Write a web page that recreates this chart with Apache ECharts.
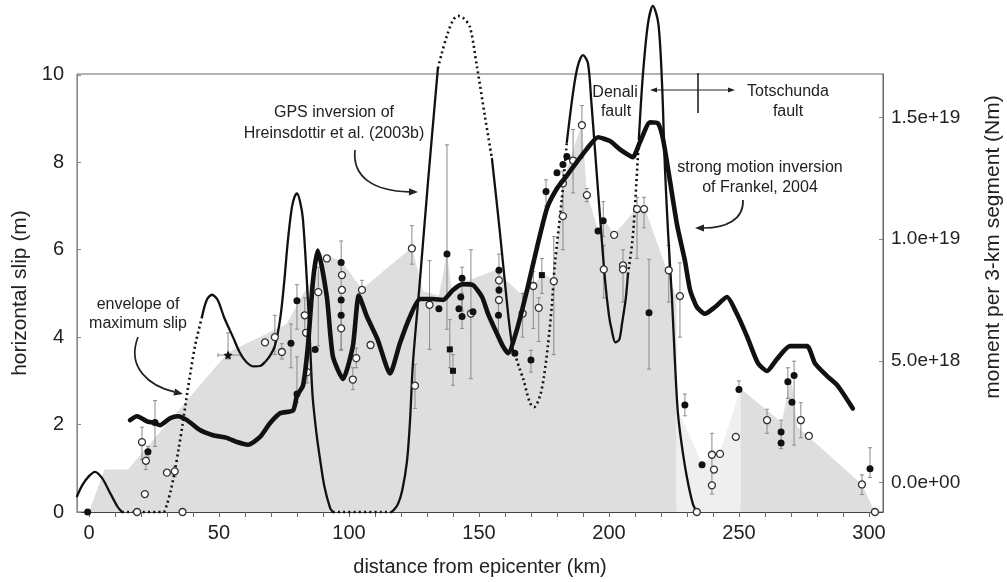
<!DOCTYPE html>
<html>
<head>
<meta charset="utf-8">
<script src="https://cdn.jsdelivr.net/npm/echarts@6/dist/echarts.min.js"></script>
<style>
  html, body { margin: 0; padding: 0; background: #fff; }
  #chart { width: 1007px; height: 582px; }
</style>
</head>
<body>
<div id="chart"></div>
<script>
// ---- axis ticks ----
const distanceTicks = [0, 10, 20, 30, 40, 50, 60, 70, 80, 90, 100, 110, 120, 130, 140, 150,
  160, 170, 180, 190, 200, 210, 220, 230, 240, 250, 260, 270, 280, 290, 300];
const distanceLabels = [0, 50, 100, 150, 200, 250, 300];
const slipLabels = [0, 2, 4, 6, 8, 10];
const momentLabels = [0, 5, 10, 15];           // in units of 1e18 Nm

// ---- envelope of maximum slip: [km, m] ----
const envelopeMain = [[0, 0], [6, 0.97], [15, 0.97], [53.5, 3.65], [76, 4.3], [82, 4.95], [92, 5.85],
  [97, 5.75], [105, 5.1], [124.2, 6.05], [128.5, 5.05], [134.6, 4.95], [137.7, 5.92], [139.6, 5.05],
  [146, 5.3], [157, 5.55], [160.5, 5.3], [166, 5.0], [171, 5.2], [175, 5.45], [178.8, 5.3],
  [182.3, 7.55], [189.6, 8.9], [191.5, 7.3], [195.8, 6.45], [198, 6.7], [202, 6.35], [210.8, 6.95],
  [213.8, 6.95], [226, 4.9], [226, 0]];
const envelopeJunction = [[226, 0], [226, 2.4], [235.8, 1.1], [242.7, 1.35], [250.6, 2.82], [250.6, 0]];
const envelopeTotschunda = [[250.6, 0], [250.6, 2.82], [266.5, 2.05], [270, 3.1], [272.5, 1.95],
  [297.3, 0.63], [302.3, 0]];

// ---- GPS inversion (slip, m): solid and dotted stretches ----
const gpsSolid = [
  [[-4.6, 0.36], [-2.5, 0.62], [0, 0.82], [2.3, 0.92], [5, 0.78], [8, 0.45], [11, 0.12], [12.7, 0]],
  [[43.5, 4.47], [45.3, 4.85], [47.3, 4.97], [49.5, 4.85], [52, 4.45], [55.4, 4.0], [58, 3.65],
   [60.7, 3.42], [63.5, 3.33], [65.8, 3.34], [68, 3.45], [69.6, 3.57], [71.5, 3.8], [73.5, 4.4],
   [75, 5.2], [76.5, 6.2], [78, 6.95], [79, 7.2], [80, 7.29], [81.2, 7.1], [82.3, 6.7], [83.8, 5.3],
   [85, 3.9], [86, 2.66], [87.5, 1.8], [88.8, 1.24], [90.5, 0.6], [92.7, 0.1], [93.8, 0]],
  [[116.5, 0], [118.8, 0.18], [120.5, 0.5], [122.3, 1.15], [123.5, 2.1], [124.6, 3.4], [127.3, 5.3],
   [130.4, 7.55], [134.2, 10.15]],
  [[155, 8.08], [158, 6.43], [161.2, 4.54], [163, 3.72], [163.8, 3.62]],
  [[183.8, 8.46], [186.2, 9.6], [188, 10.2], [190, 10.45], [191.9, 10.27], [193.2, 9.4], [194.6, 8.3],
   [196.5, 6.8], [198.5, 5.3], [200, 4.5], [201, 4.18], [202.5, 3.88], [204, 3.95], [205, 4.3],
   [206.5, 4.9], [207.3, 5.44]],
  [[211.5, 8.53], [213, 9.96], [215, 11.17], [216.9, 11.58], [219, 11.17], [220.4, 9.82], [221.5, 7.92],
   [222.7, 6.43], [224.2, 4.92], [225.4, 3.41], [226.5, 2.28], [228, 1.53], [230, 0.79], [232.3, 0.18],
   [233.8, 0]]
];
const gpsDotted = [
  [[12.7, 0], [28.5, 0], [30, 0.18], [31.5, 0.5], [33, 0.93], [34.5, 1.45], [36, 2.0], [38, 2.8],
   [40.8, 3.8], [43.5, 4.47]],
  [[93.8, 0], [116.5, 0]],
  [[134.2, 10.15], [135.5, 10.45], [137.7, 10.9], [140, 11.25], [142, 11.35], [144, 11.3], [146.5, 11.1],
   [149.2, 10.2], [152.3, 9.05], [155, 8.08]],
  [[163.8, 3.62], [165.5, 3.3], [167, 3.05], [169.6, 2.5], [171.2, 2.4], [173.5, 2.66], [175, 3.1],
   [176.5, 3.8], [178, 4.7], [179.2, 5.67], [181.9, 7.18], [183.8, 8.46]],
  [[207.3, 5.44], [209, 6.2], [210, 7.0], [211.5, 8.53]]
];

// ---- strong motion inversion (moment per 3-km segment, 1e18 Nm) ----
const strongMotion = [[15.8, 2.56], [18.5, 2.72], [22.3, 2.51], [25, 2.45], [27.3, 2.35], [31.2, 2.64],
  [34.2, 2.72], [37.7, 2.56], [42.7, 2.15], [47.7, 1.94], [53, 1.83], [56.9, 1.66], [61.2, 1.55],
  [65.8, 1.87], [69.6, 2.43], [73.5, 2.84], [78.5, 2.96], [80, 3.57], [82.3, 3.97], [84.2, 5.6],
  [86.2, 8.32], [88, 9.53], [91.5, 7.62], [93.8, 5.19], [97.7, 4.25], [101.5, 5.6], [103.8, 7.68],
  [106.9, 6.82], [111, 5.88], [115.8, 4.48], [119.6, 5.72], [123.5, 6.82], [127.3, 7.54], [132.3, 7.54],
  [136.2, 7.5], [140, 7.91], [143.8, 8.15], [147.7, 8.11], [151.2, 7.62], [153.5, 6.93], [156.9, 6.12],
  [159.2, 5.6], [161.2, 5.31], [164.6, 6.28], [168.5, 7.91], [172.3, 9.65], [176.2, 11.28], [180, 12.08],
  [183.8, 12.61], [187.7, 13.18], [191.5, 13.71], [195.8, 14.19], [200.4, 14.03], [204.2, 13.69],
  [207.5, 13.46], [209.2, 13.37], [211.9, 13.98], [215.8, 14.8], [218.8, 14.76], [220.8, 14.11],
  [223.5, 12.37], [226.2, 10.58], [229.2, 9.12], [231.2, 7.91], [233.8, 7.21], [236.9, 6.93],
  [240.8, 7.21], [245.4, 7.62], [249.2, 6.93], [253.1, 6.0], [257.3, 4.9], [260.8, 4.58], [264.6, 5.07],
  [269.6, 5.6], [276.2, 5.6], [279.2, 4.9], [283.8, 4.38], [288, 3.97], [293.8, 3.04]];

// ---- surface offsets: [km, slip m, error low, error high] ----
const offsetsFilled = [[-0.5, 0, null, null], [22.7, 1.38, 1.25, 1.5], [25.4, 2.05, 1.5, 2.55],
  [77.7, 3.86, 3.3, 4.3], [80, 4.83, 4.18, 5.2], [80, 2.7, 2.5, 3.55], [87, 3.72, null, null],
  [97, 5.71, 5.0, 6.2], [97, 4.85, null, null], [97, 4.5, 3.72, 5.0], [134.6, 4.65, null, null],
  [137.7, 5.9, 4.18, 8.4], [143.5, 5.35, 4.6, 5.6], [143, 4.92, null, null], [142.3, 4.65, null, null],
  [143.5, 4.47, 4.2, 5.0], [147.7, 4.58, null, null], [157.7, 5.53, 5.0, 5.9], [157.7, 5.08, null, null],
  [157.5, 4.5, 4.0, 4.8], [163.8, 3.63, null, null], [170, 3.48, 3.2, 3.7], [175.8, 7.33, 7.0, 7.6],
  [180, 7.76, null, null], [182.3, 7.95, null, null], [183.8, 8.13, null, null], [195.8, 6.43, null, null],
  [197.8, 6.66, 6.3, 7.1], [215.4, 4.56, 3.27, 5.78], [229.2, 2.45, 2.2, 2.7], [235.8, 1.08, null, null],
  [250, 2.8, 2.8, 3.0], [266.2, 1.83, 1.83, 2.1], [266.2, 1.58, 1.45, 1.83], [268.8, 2.98, 2.6, 3.3],
  [271.2, 3.12, 1.53, 3.45], [270.4, 2.51, null, null], [300.4, 0.99, 0.79, 1.47]];
const offsetsSquare = [[138.8, 3.72, 3.3, 4.4], [140, 3.23, 2.9, 3.6], [174.2, 5.42, 5.0, 5.8]];
const offsetsOpen = [[18.5, 0, null, null], [36, 0, null, null], [20.4, 1.6, 1.2, 1.94],
  [21.9, 1.17, 0.97, 1.4], [21.5, 0.41, null, null], [30, 0.9, null, null], [33, 0.93, 0.8, 1.05],
  [67.7, 3.88, null, null], [71.5, 4.0, 3.6, 4.5], [74.2, 3.66, 3.5, 3.85], [83, 4.5, 4.1, 4.9],
  [83.5, 4.1, null, null], [83.9, 3.2, 2.95, 3.65], [88.2, 5.03, 3.8, 5.6], [91.5, 5.8, null, null],
  [97.3, 5.42, null, null], [97.3, 5.08, null, null], [97, 4.2, 3.7, 4.5], [105, 5.08, 5.08, 5.3],
  [102.8, 3.52, 3.3, 3.75], [101.5, 3.03, 2.8, 3.3], [108.3, 3.82, null, null], [124.2, 6.03, 5.67, 6.55],
  [125.4, 2.89, 2.37, 3.38], [131, 4.74, 3.72, 5.75], [146.9, 4.54, 3.05, 6.0], [157.7, 5.3, null, null],
  [157.7, 4.85, null, null], [166.8, 4.54, 4.0, 5.0], [170.9, 5.17, 4.2, 5.5], [173, 4.67, 3.9, 4.9],
  [178.8, 5.28, 3.6, 6.3], [182.3, 7.52, null, null], [182.3, 6.77, 6.0, 7.8], [186.2, 8.04, 7.3, 8.75],
  [189.6, 8.85, 8.1, 9.3], [191.5, 7.25, 7.1, 7.4], [198, 5.55, 4.9, 6.1], [202, 6.34, null, null],
  [205.4, 5.64, 4.8, 6.0], [205.4, 5.55, null, null], [210.8, 6.93, 5.8, 7.2], [213.5, 6.93, 6.5, 7.2],
  [223, 5.53, 4.8, 6.1], [227.3, 4.94, 4.0, 5.7], [233.8, 0, null, null], [239.6, 1.31, 0.41, 1.8],
  [240.4, 0.97, null, null], [239.6, 0.61, null, null], [242.7, 1.33, null, null], [248.8, 1.72, null, null],
  [260.8, 2.1, 1.8, 2.35], [273.8, 2.1, 1.7, 2.5], [276.9, 1.74, null, null], [297.3, 0.63, 0.4, 0.85],
  [302.3, 0, null, null]];
// [km, slip, low, high, km low, km high]
const offsetsStar = [[53.5, 3.59, 3.5, 4.1, 49.6, 58.5]];

// ---------------------------------------------------------------
const FONT = '"Liberation Sans", Arial, Helvetica, sans-serif';
const INK = '#111';

function momentLabel(v) {
  const s = (v * 1e18).toExponential(1);
  return s.replace(/e([+-])(\d+)$/, function (m, sign, d) {
    return 'e' + sign + (d.length < 2 ? '0' + d : d);
  });
}

function envelopeSeries(data, color) {
  return {
    type: 'line', data: data, xAxisIndex: 0, yAxisIndex: 0, z: 1,
    showSymbol: false, silent: true, smooth: false,
    lineStyle: { width: 0 },
    areaStyle: { color: color, opacity: 1 }
  };
}

function lineSeries(data, yIndex, width, dash, z, smooth) {
  return {
    type: 'line', data: data, xAxisIndex: 0, yAxisIndex: yIndex, z: z,
    showSymbol: false, silent: true, smooth: smooth, clip: false,
    lineStyle: { color: INK, width: width, type: dash, cap: dash === 'solid' ? 'round' : 'butt', join: 'round' }
  };
}

function errorBars(points) {
  return {
    type: 'custom', xAxisIndex: 0, yAxisIndex: 0, z: 2, silent: true, clip: false,
    data: points.filter(p => p[2] != null).map(p => [p[0], p[2], p[3]]),
    encode: { x: 0, y: [1, 2] },
    renderItem: function (params, api) {
      const x = api.value(0);
      const a = api.coord([x, api.value(1)]);
      const b = api.coord([x, api.value(2)]);
      const st = { stroke: '#8a8a8a', lineWidth: 1 };
      const cap = 2;
      return {
        type: 'group', children: [
          { type: 'line', shape: { x1: a[0], y1: a[1], x2: b[0], y2: b[1] }, style: st },
          { type: 'line', shape: { x1: a[0] - cap, y1: a[1], x2: a[0] + cap, y2: a[1] }, style: st },
          { type: 'line', shape: { x1: b[0] - cap, y1: b[1], x2: b[0] + cap, y2: b[1] }, style: st }
        ]
      };
    }
  };
}

function horizontalBars(points) {
  return {
    type: 'custom', xAxisIndex: 0, yAxisIndex: 0, z: 2, silent: true,
    data: points.map(p => [p[4], p[5], p[1]]),
    encode: { x: [0, 1], y: 2 },
    renderItem: function (params, api) {
      const a = api.coord([api.value(0), api.value(2)]);
      const b = api.coord([api.value(1), api.value(2)]);
      const st = { stroke: '#8a8a8a', lineWidth: 1 };
      return {
        type: 'group', children: [
          { type: 'line', shape: { x1: a[0], y1: a[1], x2: b[0], y2: b[1] }, style: st },
          { type: 'line', shape: { x1: a[0], y1: a[1] - 2, x2: a[0], y2: a[1] + 2 }, style: st },
          { type: 'line', shape: { x1: b[0], y1: b[1] - 2, x2: b[0], y2: b[1] + 2 }, style: st }
        ]
      };
    }
  };
}

function markers(points, symbol, size, fill, border) {
  return {
    type: 'scatter', xAxisIndex: 0, yAxisIndex: 0, z: 4, silent: true, clip: false,
    symbol: symbol, symbolSize: size,
    data: points.map(p => [p[0], p[1]]),
    itemStyle: { color: fill, borderColor: border, borderWidth: border ? 1.3 : 0, opacity: 1 }
  };
}

function arrowHead(x2, y2, fromX, fromY, len, half) {
  const ang = Math.atan2(y2 - fromY, x2 - fromX);
  const bx = x2 - len * Math.cos(ang), by = y2 - len * Math.sin(ang);
  const px = -Math.sin(ang) * half, py = Math.cos(ang) * half;
  return {
    base: [bx, by],
    shape: { type: 'polygon', silent: true, shape: { points: [[x2, y2], [bx + px, by + py], [bx - px, by - py]] }, style: { fill: '#222' } }
  };
}

function curvedArrow(x1, y1, c1x, c1y, c2x, c2y, x2, y2) {
  const head = arrowHead(x2, y2, c2x, c2y, 9, 3.6);
  return [
    { type: 'bezierCurve', silent: true,
      shape: { x1: x1, y1: y1, cpx1: c1x, cpy1: c1y, cpx2: c2x, cpy2: c2y, x2: head.base[0], y2: head.base[1] },
      style: { stroke: '#222', lineWidth: 1.7, fill: null } },
    head.shape
  ];
}

function label(text, x, y, size, rotation) {
  return {
    type: 'text', x: x, y: y, rotation: rotation || 0, silent: true,
    style: { text: text, font: size + 'px ' + FONT, fill: '#222', align: 'center', verticalAlign: 'middle' }
  };
}

const series = [
  envelopeSeries(envelopeMain, '#dedede'),
  envelopeSeries(envelopeJunction, '#efefef'),
  envelopeSeries(envelopeTotschunda, '#dedede'),
  errorBars(offsetsFilled.concat(offsetsSquare, offsetsOpen, offsetsStar)),
  horizontalBars(offsetsStar)
];
gpsSolid.forEach(seg => series.push(lineSeries(seg, 0, 2.3, 'solid', 3, 0.3)));
gpsDotted.forEach(seg => series.push(lineSeries(seg, 0, 2.6, [2, 3.2], 3, 0.3)));
series.push(markers(offsetsOpen, 'circle', 7, '#ffffff', '#333'));
series.push(markers(offsetsFilled, 'circle', 7, INK, null));
series.push(markers(offsetsSquare, 'rect', 6, INK, null));
series.push(markers(offsetsStar, 'path://M0,-10L2.9,-4L9.5,-3.1L4.8,1.5L5.9,8.1L0,5L-5.9,8.1L-4.8,1.5L-9.5,-3.1L-2.9,-4Z', 9, INK, null));
series.push(lineSeries(strongMotion, 1, 4.6, 'solid', 5, 0.2));

// fault annotation
const faultHeadL = arrowHead(650, 90, 700, 90, 7, 2.6);
const faultHeadR = arrowHead(735, 90, 700, 90, 7, 2.6);

const graphics = [
  label('GPS inversion of', 334, 113, 16),
  label('Hreinsdottir et al. (2003b)', 334, 134, 16),
  label('envelope of', 138, 305, 16),
  label('maximum slip', 138, 324, 16),
  label('Denali', 615, 93, 16),
  label('fault', 616, 112, 16),
  label('Totschunda', 788, 92, 16),
  label('fault', 788, 112, 16),
  label('strong motion inversion', 760, 168, 16),
  label('of Frankel, 2004', 760, 188, 16),
  label('moment per 3-km segment (Nm)', 993, 247, 21, Math.PI / 2),
  { type: 'line', silent: true, shape: { x1: faultHeadL.base[0], y1: 90, x2: faultHeadR.base[0], y2: 90 }, style: { stroke: '#222', lineWidth: 1 } },
  faultHeadL.shape, faultHeadR.shape,
  { type: 'line', silent: true, shape: { x1: 698, y1: 73, x2: 698, y2: 113 }, style: { stroke: '#222', lineWidth: 1.6 } }
].concat(
  curvedArrow(355, 150, 352, 178, 375, 191, 418, 192),
  curvedArrow(138, 337, 126, 368, 150, 386, 183, 394),
  curvedArrow(743, 200, 744, 220, 725, 228, 695, 228)
);

const chart = echarts.init(document.getElementById('chart'), null, { renderer: 'canvas' });
chart.setOption({
  animation: false,
  backgroundColor: '#ffffff',
  textStyle: { fontFamily: FONT },
  grid: { left: 77, right: 124, top: 74, bottom: 64, show: true, borderColor: '#666', borderWidth: 1, backgroundColor: 'transparent' },
  xAxis: {
    type: 'value', min: -4.6, max: 305.4,
    axisLine: { show: true, onZero: false, lineStyle: { color: '#444', width: 1 } },
    axisTick: { show: true, customValues: distanceTicks, length: 5, lineStyle: { color: '#666' } },
    axisLabel: { customValues: distanceLabels, fontSize: 20, color: '#222', margin: 11, fontFamily: FONT },
    splitLine: { show: false },
    name: 'distance from epicenter (km)', nameLocation: 'middle', nameGap: 45,
    nameTextStyle: { fontSize: 20, color: '#222', fontFamily: FONT }
  },
  yAxis: [{
    type: 'value', min: 0, max: 10.02, position: 'left',
    axisLine: { show: true, onZero: false, lineStyle: { color: '#888', width: 1 } },
    axisTick: { show: true, inside: true, customValues: slipLabels, length: 4, lineStyle: { color: '#888' } },
    axisLabel: { customValues: slipLabels, fontSize: 20, color: '#222', margin: 13, fontFamily: FONT },
    splitLine: { show: false },
    name: 'horizontal slip (m)', nameLocation: 'middle', nameGap: 45,
    nameTextStyle: { fontSize: 21, color: '#222', fontFamily: FONT }
  }, {
    type: 'value', min: -1.2165, max: 16.788, position: 'right',
    axisLine: { show: true, onZero: false, lineStyle: { color: '#666', width: 1 } },
    axisTick: { show: true, inside: true, customValues: momentLabels, length: 4, lineStyle: { color: '#888' } },
    axisLabel: { customValues: momentLabels, fontSize: 19, color: '#222', margin: 8, fontFamily: FONT, formatter: momentLabel },
    splitLine: { show: false }
  }],
  series: series,
  graphic: graphics
});
</script>
</body>
</html>
